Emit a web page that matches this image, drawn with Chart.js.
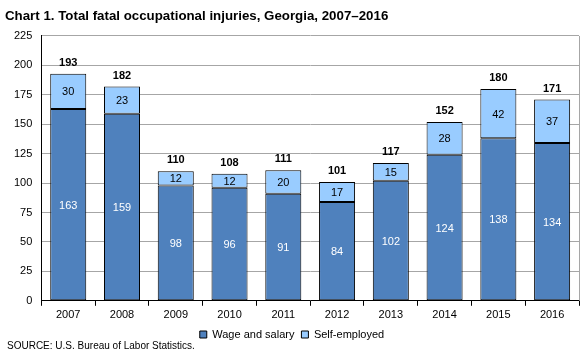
<!DOCTYPE html>
<html><head><meta charset="utf-8">
<script src="https://cdn.jsdelivr.net/npm/chart.js@4"></script>
<style>html,body{margin:0;padding:0;background:#fff;}#wrap{width:587px;height:359px;}</style>
</head><body><div id="wrap"><canvas id="c" width="587" height="359"></canvas></div>
<script>
const years = ["2007","2008","2009","2010","2011","2012","2013","2014","2015","2016"];
const wageAndSalary = [163,159,98,96,91,84,102,124,138,134];
const selfEmployed = [30,23,12,12,20,17,15,28,42,37];
const totals = [193,182,110,108,111,101,117,152,180,171];
const yTicks = [0,25,50,75,100,125,150,175,200,225];
const sourceNote = 'SOURCE: U.S. Bureau of Labor Statistics.';

const FONT = "'Liberation Sans', Arial, sans-serif";

const labelPlugin = {
  id: 'labels',
  beforeDatasetsDraw(chart) {
    const ctx = chart.ctx, a = chart.chartArea;
    ctx.save();
    ctx.strokeStyle = '#A6A6A6';
    ctx.lineWidth = 1;
    ctx.beginPath();
    ctx.moveTo(Math.round(a.right) + 0.5, a.top);
    ctx.lineTo(Math.round(a.right) + 0.5, a.bottom);
    ctx.stroke();
    ctx.restore();
  },
  afterDatasetsDraw(chart) {
    const ctx = chart.ctx;
    ctx.save();
    ctx.textAlign = 'center';
    ctx.textBaseline = 'middle';
    const m0 = chart.getDatasetMeta(0), m1 = chart.getDatasetMeta(1);
    m0.data.forEach((b, i) => {
      ctx.font = '11px ' + FONT;
      ctx.fillStyle = '#ffffff';
      ctx.fillText(String(wageAndSalary[i]), b.x, (b.y + b.base) / 2 + 1);
    });
    m1.data.forEach((b, i) => {
      ctx.font = '11px ' + FONT;
      ctx.fillStyle = '#000000';
      ctx.fillText(String(selfEmployed[i]), b.x, (b.y + b.base) / 2 + 1);
      ctx.font = 'bold 11px ' + FONT;
      ctx.fillText(String(totals[i]), b.x, chart.scales.y.getPixelForValue(totals[i]) - 11);
    });
    ctx.restore();
  },
  afterDraw(chart) {
    const ctx = chart.ctx;
    ctx.save();
    ctx.font = '10px ' + FONT;
    ctx.fillStyle = '#000';
    ctx.textAlign = 'left';
    ctx.textBaseline = 'middle';
    ctx.fillText(sourceNote, 7, chart.height - 13);
    ctx.restore();
  }
};

new Chart(document.getElementById('c'), {
  type: 'bar',
  data: {
    labels: years,
    datasets: [
      {label: 'Wage and salary', data: wageAndSalary, backgroundColor: '#4F81BD', borderColor: '#000000', borderWidth: 1, borderSkipped: false, barPercentage: 0.67, categoryPercentage: 1},
      {label: 'Self-employed', data: selfEmployed, backgroundColor: '#99CCFF', borderColor: '#000000', borderWidth: 1, borderSkipped: false, barPercentage: 0.67, categoryPercentage: 1}
    ]
  },
  options: {
    responsive: false,
    animation: false,
    devicePixelRatio: 1,
    layout: {padding: {left: 5, right: 8, top: 0, bottom: 9}},
    plugins: {
      title: {display: true, text: 'Chart 1. Total fatal occupational injuries, Georgia, 2007\u20132016', align: 'start', color: '#000', font: {family: FONT, size: 13.3, weight: 'bold'}, padding: {top: 8, bottom: 12}},
      legend: {position: 'bottom', labels: {color: '#000', font: {family: FONT, size: 11}, boxWidth: 7, boxHeight: 7, padding: 7}},
      tooltip: {enabled: false}
    },
    scales: {
      x: {
        stacked: true,
        afterFit: (s) => { s.height -= 3; },
        grid: {display: true, drawOnChartArea: false, drawTicks: true, tickLength: 5, offset: true, color: '#000'},
        border: {display: true, color: '#000', width: 1},
        ticks: {color: '#000', font: {family: FONT, size: 11}, padding: 3}
      },
      y: {
        stacked: true,
        min: 0, max: 225,
        afterBuildTicks: (s) => { s.ticks = yTicks.map(v => ({value: v})); },
        grid: {color: '#A6A6A6', drawTicks: false},
        border: {display: true, color: '#000', width: 1},
        ticks: {color: '#000', font: {family: FONT, size: 11}, padding: 9}
      }
    }
  },
  plugins: [labelPlugin]
});
</script></body></html>
